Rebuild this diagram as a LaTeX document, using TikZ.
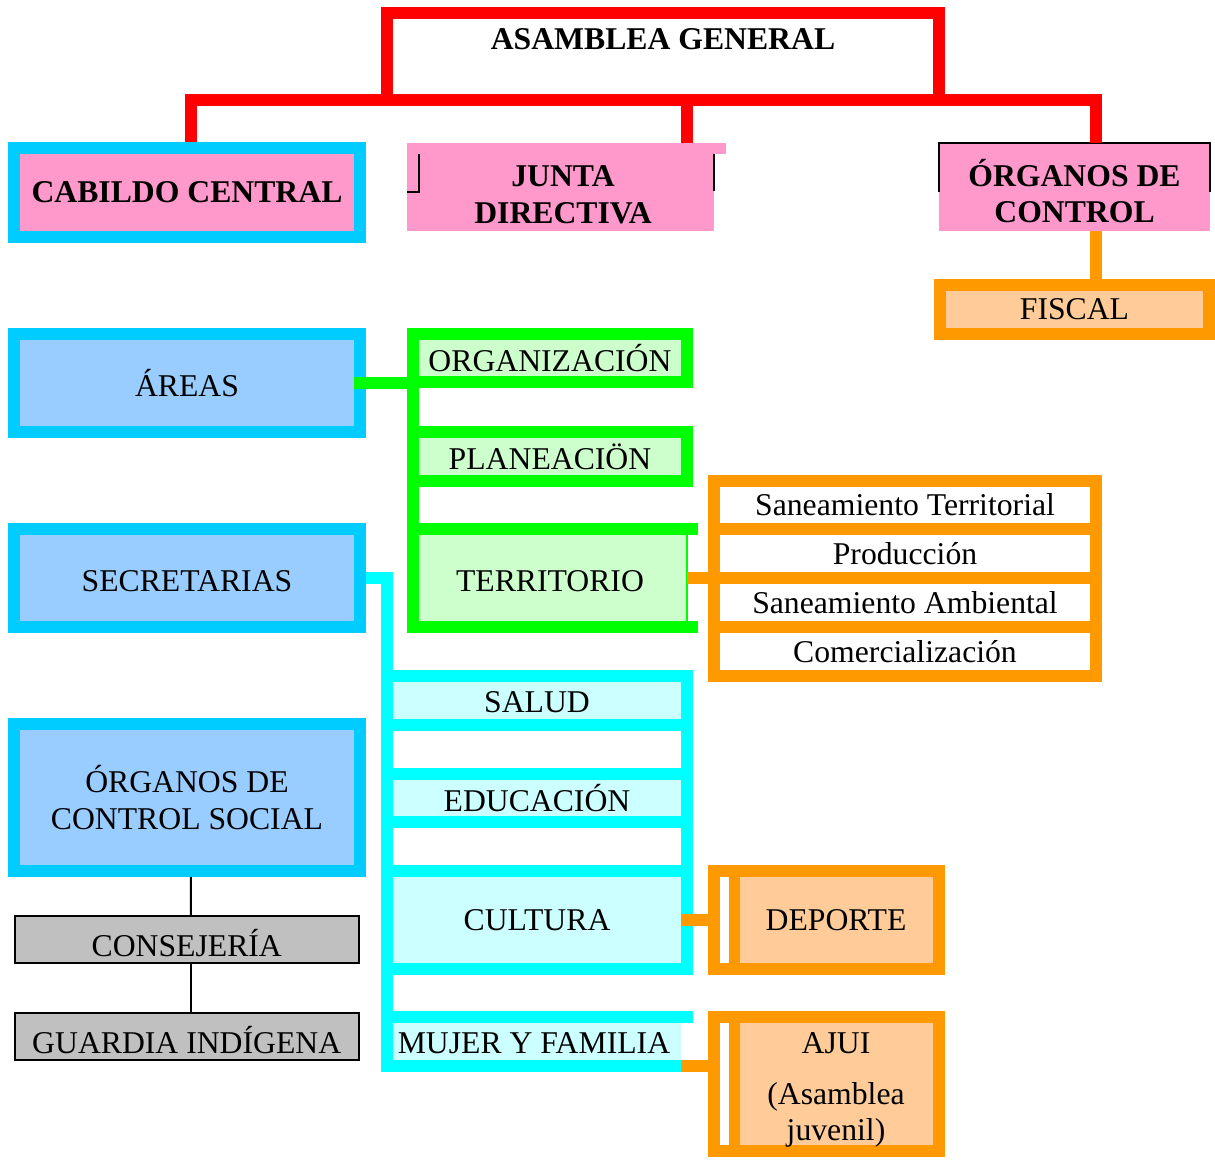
\documentclass[tikz,border=0pt]{standalone}
\usepackage{fontspec}
\setmainfont{Liberation Serif}
\definecolor{redline}{HTML}{FF0000}
\definecolor{skyline}{HTML}{00CCFF}
\definecolor{pinkbox}{HTML}{FF99CC}
\definecolor{bluebox}{HTML}{99CCFF}
\definecolor{greenline}{HTML}{00FF00}
\definecolor{greenbox}{HTML}{CCFFCC}
\definecolor{orangeline}{HTML}{FF9900}
\definecolor{peachbox}{HTML}{FFCC99}
\definecolor{cyanline}{HTML}{00FFFF}
\definecolor{cyanbox}{HTML}{CCFFFF}
\definecolor{greybox}{HTML}{C0C0C0}

\begin{document}
\begin{tikzpicture}[x=1pt,y=-1pt]
\tikzstyle{txt}=[font=\fontsize{31.7}{36.5}\selectfont,inner sep=0pt,outer sep=0pt,align=center];
\tikzstyle{head}=[txt,font=\fontsize{31.7}{36.5}\selectfont\bfseries];
\tikzstyle{col}=[txt,draw=skyline,line width=12pt,fill=bluebox,minimum width=346pt];
\tikzstyle{grn}=[txt,draw=greenline,line width=12pt,fill=greenbox,minimum width=274pt];
\tikzstyle{orng}=[txt,draw=orangeline,line width=12pt];
\tikzstyle{cyn}=[txt,draw=cyanline,line width=12pt,fill=cyanbox,minimum width=300pt];
\tikzstyle{gbox}=[txt,draw,line width=2pt,fill=greybox,minimum width=344pt,minimum height=47pt];
\tikzstyle{rline}=[draw=redline,line width=12pt];
\tikzstyle{gline}=[draw=greenline,line width=12pt];
\tikzstyle{oline}=[draw=orangeline,line width=12pt];
\tikzstyle{cline}=[draw=cyanline,line width=12pt];
\tikzstyle{bline}=[draw=black,line width=2pt];
\useasboundingbox (0,0) rectangle (1215,1162);
\node [head,draw=redline,line width=12pt,minimum width=552pt,text height=36.5pt,text depth=50.5pt] (v1) at (663,56.5) {ASAMBLEA GENERAL};
\node [col,head,fill=pinkbox,minimum height=89pt] (v2) at (187,192.5) {CABILDO CENTRAL};
\node [head,fill=pinkbox,minimum width=307pt,minimum height=88pt] (v3) at (560.5,187) {\rule{0pt}{36pt}\hspace*{5pt}JUNTA\\\hspace*{5pt}DIRECTIVA};
\fill [pinkbox] (v3.north west) rectangle ++(319,11);
\draw [bline] ([yshift=-49pt]v3.north west) -| ([shift={(12pt,-11pt)}]v3.north west);
\draw [bline] ([yshift=-11pt]v3.north east) -- ++(0,37);
\node [head,fill=pinkbox,minimum width=271pt,minimum height=88pt] (v4) at (1074.5,187) {\rule{0pt}{35pt}ÓRGANOS DE\\CONTROL};
\draw [bline] ([yshift=-49pt]v4.north west) |- (v4.north east) -- ++(0,49);
\node [orng,fill=peachbox,minimum width=269pt,minimum height=49pt] (v5) at (1074.5,309.5) {FISCAL};
\node [col,minimum height=98pt] (v6) at (187,383) {ÁREAS};
\node [col,minimum height=98pt] (v7) at (187,578) {\rule{0pt}{27pt}SECRETARIAS};
\node [col,minimum height=147pt] (v8) at (187,797.5) {ÓRGANOS DE\\CONTROL SOCIAL};
\node [gbox] (v9) at (186.75,939.5) {\rule{0pt}{34pt}CONSEJERÍA};
\node [gbox] (v10) at (186.75,1036.5) {\rule{0pt}{34pt}GUARDIA INDÍGENA};
\node [grn,minimum height=48pt] (v11) at (550,358) {ORGANIZACIÓN};
\node [grn,minimum height=49pt] (v12) at (550,456.5) {PLANEACIÖN};
\node [grn,draw=none,minimum height=98pt] (v13) at (550,578) {\rule{0pt}{27pt}TERRITORIO};
\draw [gline] ([xshift=11pt]v13.north east) -- (v13.north west) -- (v13.south west) -- ([xshift=11pt]v13.south east);
\draw [greenline,line width=2pt] (v13.north east) -- (v13.south east);
\node [orng,minimum width=382pt,minimum height=48pt] (v14) at (905,505) {Saneamiento Territorial};
\node [orng,minimum width=382pt,minimum height=49pt] (v15) at (905,553.5) {Producción};
\node [orng,minimum width=382pt,minimum height=49pt] (v16) at (905,602.5) {Saneamiento Ambiental};
\node [orng,minimum width=382pt,minimum height=49pt] (v17) at (905,651.5) {Comercialización};
\node [cyn,minimum height=49pt] (v18) at (537,700.5) {\rule{0pt}{25pt}SALUD};
\node [cyn,fill=white,minimum height=48.5pt] (v19) at (537,749.25) {};
\node [cyn,minimum height=48.5pt] (v20) at (537,797.75) {EDUCACIÓN};
\node [cyn,minimum height=98pt] (v22) at (537,920) {CULTURA};
\node [cyn,fill=white,minimum height=49pt] (v21) at (537,846.5) {};
\node [cyn,draw=none,minimum width=294pt,minimum height=49pt] (v23) at (534,1041.5) {\rule{0pt}{25pt}MUJER Y FAMILIA};
\draw [cline] (v23.south east) -- (v23.south west) -- (v23.north west) -- ([xshift=12pt]v23.north east);
\node [orng,fill=peachbox,minimum width=225pt,minimum height=98pt] (v24) at (826.5,920) {\hspace*{19pt}DEPORTE};
\fill [white] ([shift={(6pt,-6pt)}]v24.north west) rectangle ([shift={(15pt,6pt)}]v24.south west);
\draw [oline,line width=11pt] ([shift={(20.5pt,-6pt)}]v24.north west) -- ([shift={(20.5pt,6pt)}]v24.south west);
\node [orng,fill=peachbox,minimum width=225pt,minimum height=134pt] (v25) at (826.5,1084) {\rule{0pt}{33pt}\hspace*{19pt}AJUI\\[14pt]\hspace*{19pt}(Asamblea\\\hspace*{19pt}juvenil)};
\fill [white] ([shift={(6pt,-6pt)}]v25.north west) rectangle ([shift={(15pt,6pt)}]v25.south west);
\draw [oline,line width=11pt] ([shift={(20.5pt,-6pt)}]v25.north west) -- ([shift={(20.5pt,6pt)}]v25.south west);
\draw [rline] ([shift={(3.5pt,6pt)}]v2.north) |- ([xshift=21.5pt]v4.north |- v1.south) -- ([xshift=21.5pt]v4.north);
\draw [rline] ([xshift=126pt]v3.north |- v1.south) -- ([xshift=126pt]v3.north);
\draw [oline] ([xshift=21.5pt]v4.south) -- ([xshift=21.5pt]v5.north);
\draw [gline] ([xshift=-6pt]v6.east) -- (v6.east -| v11.west);
\draw [gline] (v11.north west) -- (v13.south west);
\draw [oline] (v13.east) -- (v13.east -| v15.west);
\draw [cline] ([xshift=6pt]v7.east) -| (v23.south west);
\draw [oline] ([xshift=-6pt]v22.east) -- (v24.west);
\draw [oline] (v23.south east) -- (v23.south east -| v25.west);
\draw [bline] ([shift={(4pt,-6pt)}]v8.south) -- ([xshift=4pt]v9.north);
\draw [bline] ([xshift=4pt]v9.south) -- ([xshift=4pt]v10.north);
\end{tikzpicture}
\end{document}
